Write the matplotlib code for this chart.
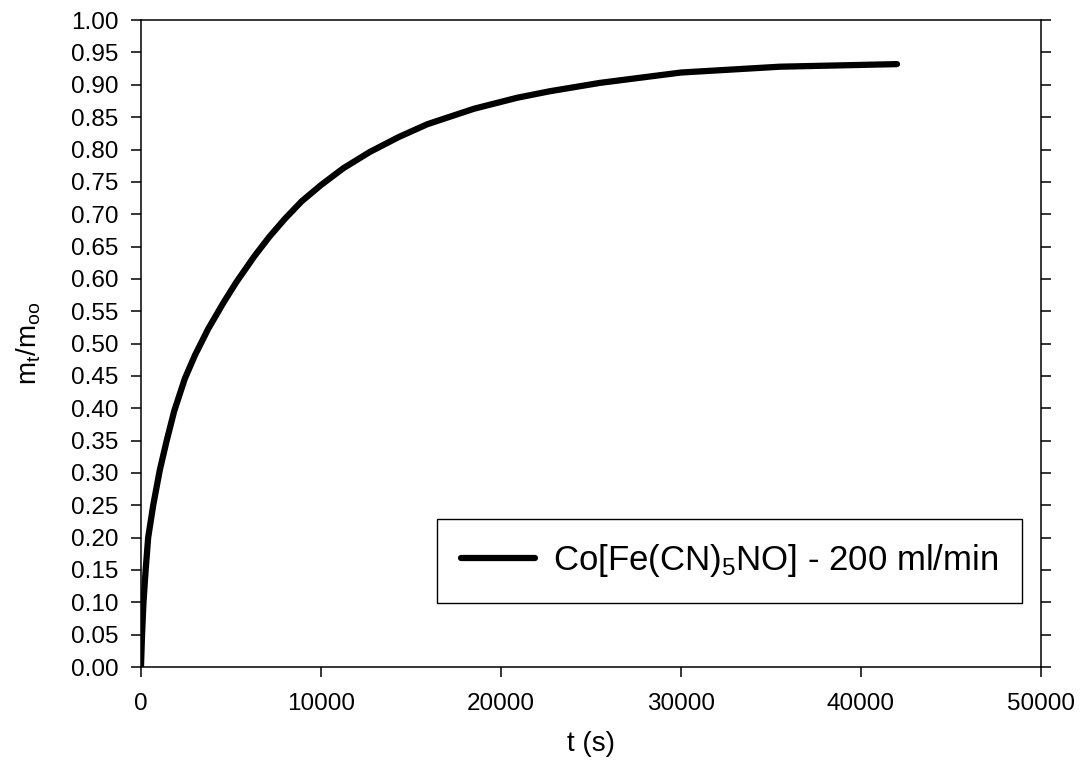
import matplotlib
matplotlib.use("Agg")
import matplotlib.pyplot as plt
from matplotlib.ticker import FormatStrFormatter, MultipleLocator

plt.rcParams['font.family'] = ['Liberation Sans', 'DejaVu Sans']
plt.rcParams['mathtext.fontset'] = 'custom'
plt.rcParams['mathtext.rm'] = 'Liberation Sans'
plt.rcParams['mathtext.it'] = 'Liberation Sans'

# uptake curve
t_s = [0, 60, 140, 260, 400, 680, 1050, 1430, 1850, 2440, 3000, 3740, 4600,
       5300, 6300, 7130, 8000, 8930, 10000, 11240, 12700, 14300, 15900, 18500,
       20900, 22700, 25500, 30000, 35500, 42000]
m_ratio = [0.0, 0.05, 0.10, 0.15, 0.20, 0.25, 0.305, 0.35, 0.396, 0.446, 0.482, 0.523, 0.564,
           0.595, 0.635, 0.665, 0.693, 0.72, 0.745, 0.771, 0.796, 0.819, 0.839, 0.863,
           0.880, 0.890, 0.903, 0.919, 0.928, 0.932]
series_label = r'Co[Fe(CN)$_5$NO] - 200 ml/min'

fig = plt.figure(figsize=(10.81, 7.74), dpi=100)
ax = fig.add_axes([0.1304, 0.1382, 0.8326, 0.8358])

ax.plot(t_s, m_ratio, color='black', lw=4.5, solid_capstyle='round',
        solid_joinstyle='round', label=series_label)

ax.set_xlim(0, 50000)
ax.set_ylim(0, 1.0)
ax.xaxis.set_major_locator(MultipleLocator(10000))
ax.yaxis.set_major_locator(MultipleLocator(0.05))
ax.yaxis.set_major_formatter(FormatStrFormatter('%.2f'))

ax.tick_params(axis='both', direction='out', length=7, width=1.1, labelsize=17.5)
ax.tick_params(axis='y', right=True, left=True, pad=9)
ax.tick_params(axis='x', top=False, pad=12)
for s in ax.spines.values():
    s.set_linewidth(1.1)

ax.set_xlabel('t (s)', fontsize=20, labelpad=11)
ax.set_ylabel(r'$\mathrm{m_t/m_{oo}}$', fontsize=20, labelpad=20)

leg = ax.legend(loc='lower left', bbox_to_anchor=(0.329, 0.099), borderaxespad=0,
                fontsize=25, handlelength=2.15, handletextpad=0.52, borderpad=0.68,
                fancybox=False, framealpha=1, edgecolor='black')
leg.get_frame().set_linewidth(1.0)

fig.savefig('out.png', dpi=100)
